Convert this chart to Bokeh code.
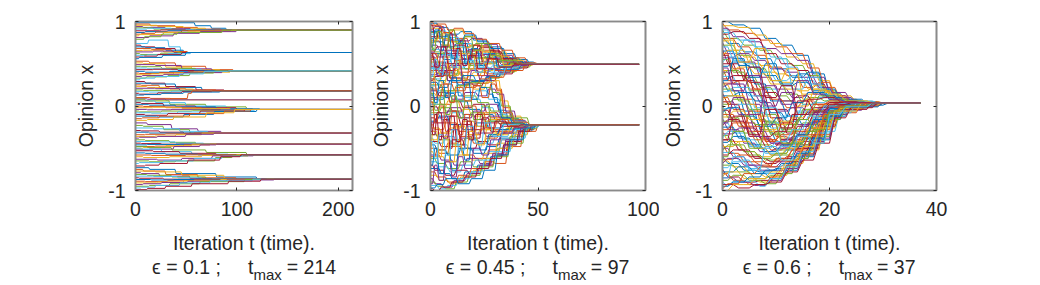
from bokeh.plotting import figure
from bokeh.layouts import row, column
from bokeh.models import Range1d, FixedTicker, LinearAxis
from bokeh.core.properties import value
from bokeh.embed import file_html
from bokeh.resources import INLINE

# ---------------- data ----------------
EPS = ["0.1", "0.45", "0.6"]
TMAX = [214, 97, 37]
XMAX = [214, 100, 40]
XTICKS = [[0, 100, 200], [0, 50, 100], [0, 20, 40]]
YTICKS = [-1, 0, 1]
XLABEL = "Iteration t (time)."
YLABEL = "Opinion x"

# Each path: flat list t0,x0, t1,x1, ... (opinion held, then moves to the next value at t_i)
# ---- panel 1 (eps = 0.1), grouped by final cluster ----
p1_c0897 = [
    [0,.985, 59,.95, 75,.92, 90,.897],
    [0,.97, 15,.95, 40,.93, 62,.91, 85,.897],
    [0,.955, 22,.94, 48,.92, 70,.897],
    [0,.94, 8,.93, 30,.915, 55,.9, 80,.897],
    [0,.925, 18,.91, 44,.9, 66,.897],
    [0,.91, 12,.92, 36,.905, 58,.897],
    [0,.89, 25,.9, 50,.895, 72,.897],
    [0,.87, 10,.88, 32,.89, 60,.897],
    [0,.85, 6,.86, 20,.875, 46,.89, 78,.897],
    [0,.83, 4,.845, 28,.87, 52,.885, 95,.897],
    [0,.81, 14,.83, 38,.86, 64,.88, 100,.897],
    [0,.79, 9,.82, 26,.85, 42,.87, 86,.897],
]
p1_c0633 = [
    [0,.74, 13,.78, 33,.70, 45,.633],
    [0,.72, 6,.70, 20,.68, 40,.633],
    [0,.70, 10,.69, 30,.66, 48,.633],
    [0,.68, 16,.67, 36,.645, 52,.633],
    [0,.655, 8,.66, 28,.64, 44,.633],
    [0,.64, 18,.65, 38,.633],
    [0,.62, 5,.61, 25,.625, 42,.633],
    [0,.60, 12,.605, 32,.62, 55,.633],
    [0,.58, 9,.59, 22,.61, 46,.633],
    [0,.56, 4,.575, 27,.60, 50,.633],
]
p1_c0416 = [
    [0,.53, 14,.51, 40,.47, 70,.43, 97,.416],
    [0,.51, 8,.50, 30,.46, 56,.43, 84,.416],
    [0,.49, 20,.48, 46,.44, 76,.416],
    [0,.47, 6,.465, 26,.445, 60,.42, 90,.416],
    [0,.45, 12,.44, 36,.43, 66,.416],
    [0,.43, 18,.435, 42,.42, 72,.416],
    [0,.41, 10,.40, 34,.41, 58,.416],
    [0,.39, 4,.385, 24,.395, 52,.405, 80,.416],
    [0,.37, 16,.38, 38,.39, 62,.40, 94,.416],
    [0,.35, 7,.36, 28,.375, 48,.395, 86,.416],
    [0,.33, 11,.345, 32,.36, 54,.39, 78,.416],
    [0,.31, 5,.33, 20,.35, 44,.38, 68,.41, 92,.416],
]
p1_c0180 = [
    [0,.29, 10,.27, 30,.23, 60,.19, 88,.18],
    [0,.27, 16,.26, 40,.22, 66,.18],
    [0,.25, 6,.245, 24,.21, 50,.19, 80,.18],
    [0,.23, 12,.22, 34,.20, 58,.18],
    [0,.21, 20,.205, 44,.185, 70,.18],
    [0,.19, 8,.185, 28,.18],
    [0,.17, 14,.165, 36,.175, 62,.18],
    [0,.15, 4,.14, 22,.155, 46,.17, 76,.18],
    [0,.13, 9,.135, 26,.15, 48,.165, 84,.18],
    [0,.10, 15,.09, 35,.088, 52,.15, 56,.18],
]
p1_c0073 = [
    [0,.06, 18,.073],
    [0,.085, 12,.08, 30,.073],
]
p1_cm0041 = [
    [0,.08, 10,.06, 34,.02, 70,-.01, 110,-.041],
    [0,.06, 20,.04, 50,.0, 90,-.03, 123,-.041],
    [0,.04, 6,.03, 28,.0, 60,-.02, 100,-.041],
    [0,.02, 14,.01, 40,-.01, 80,-.035, 116,-.041],
    [0,.0, 8,-.005, 30,-.02, 66,-.041],
    [0,-.02, 18,-.015, 46,-.03, 94,-.041],
    [0,-.04, 12,-.045, 36,-.04, 74,-.041],
    [0,-.06, 4,-.07, 26,-.06, 56,-.05, 104,-.041],
    [0,-.08, 16,-.085, 42,-.07, 84,-.05, 118,-.041],
    [0,-.10, 10,-.11, 32,-.09, 64,-.06, 108,-.041],
    [0,-.12, 22,-.13, 48,-.10, 78,-.065, 120,-.041],
    [0,-.15, 7,-.14, 24,-.12, 54,-.09, 88,-.06, 114,-.041],
    [0,-.17, 12,-.16, 38,-.13, 70,-.08, 98,-.041],
]
p1_cm0321 = [
    [0,-.20, 12,-.22, 36,-.27, 62,-.30, 85,-.321],
    [0,-.23, 8,-.24, 28,-.28, 54,-.321],
    [0,-.26, 18,-.27, 44,-.30, 72,-.321],
    [0,-.29, 6,-.295, 24,-.31, 48,-.321],
    [0,-.31, 14,-.32, 32,-.321],
    [0,-.34, 10,-.335, 30,-.33, 58,-.321],
    [0,-.36, 20,-.355, 40,-.34, 66,-.321],
    [0,-.38, 4,-.37, 22,-.36, 50,-.335, 78,-.321],
]
p1_cm0452 = [
    [0,-.40, 10,-.41, 34,-.43, 60,-.452],
    [0,-.42, 16,-.425, 40,-.44, 68,-.452],
    [0,-.44, 6,-.445, 26,-.452],
    [0,-.46, 12,-.455, 44,-.452],
    [0,-.48, 20,-.475, 48,-.46, 74,-.452],
    [0,-.50, 8,-.49, 30,-.47, 56,-.452],
    [0,-.52, 14,-.51, 38,-.48, 64,-.46, 80,-.452],
]
p1_cm0578 = [
    [0,-.48, 12,-.49, 36,-.52, 70,-.55, 110,-.578],
    [0,-.50, 6,-.51, 26,-.54, 56,-.57, 92,-.578],
    [0,-.53, 18,-.54, 44,-.56, 80,-.578],
    [0,-.555, 10,-.56, 30,-.57, 62,-.578],
    [0,-.58, 16,-.585, 50,-.578],
    [0,-.60, 8,-.61, 34,-.60, 66,-.585, 100,-.578],
    [0,-.63, 22,-.64, 46,-.62, 76,-.59, 117,-.578],
    [0,-.65, 14,-.66, 40,-.65, 79,-.61, 96,-.59, 112,-.578],
    [0,-.68, 4,-.67, 28,-.65, 58,-.62, 86,-.595, 106,-.578],
    [0,-.71, 10,-.70, 24,-.68, 52,-.64, 84,-.60, 104,-.578],
]
p1_cm0866 = [
    [0,-.73, 14,-.75, 40,-.80, 80,-.84, 120,-.866],
    [0,-.75, 8,-.77, 30,-.81, 62,-.85, 100,-.866],
    [0,-.77, 20,-.78, 46,-.82, 88,-.866],
    [0,-.79, 6,-.80, 24,-.83, 54,-.86, 76,-.866],
    [0,-.81, 12,-.82, 36,-.84, 70,-.866],
    [0,-.83, 18,-.835, 42,-.85, 66,-.866],
    [0,-.85, 4,-.855, 28,-.866],
    [0,-.87, 16,-.875, 38,-.87, 60,-.866],
    [0,-.89, 10,-.895, 32,-.885, 58,-.875, 96,-.866],
    [0,-.91, 22,-.90, 48,-.885, 84,-.87, 130,-.866],
    [0,-.93, 8,-.92, 26,-.905, 52,-.89, 90,-.875, 137,-.866],
    [0,-.95, 14,-.94, 34,-.92, 64,-.895, 108,-.87, 128,-.866],
    [0,-.97, 6,-.96, 20,-.94, 44,-.91, 74,-.885, 116,-.866],
    [0,-.99, 12,-.975, 30,-.95, 56,-.92, 92,-.89, 124,-.866],
]

# ---- panel 2 (eps = 0.45): upper cluster 0.494, lower cluster -0.223 ----
p2_upper = [
    [0,.98, 4,.93, 9,.85, 14,.88, 20,.78, 27,.70, 34,.62, 40,.55, 46,.494],
    [0,.95, 3,.97, 8,.90, 12,.80, 18,.72, 24,.66, 31,.58, 38,.52, 44,.494],
    [0,.92, 5,.86, 10,.90, 16,.82, 22,.71, 28,.64, 36,.56, 42,.51, 48,.494],
    [0,.90, 2,.94, 7,.84, 13,.77, 19,.80, 25,.73, 32,.60, 39,.53, 45,.494],
    [0,.87, 4,.80, 9,.76, 15,.70, 21,.74, 29,.62, 35,.55, 43,.494],
    [0,.85, 3,.89, 8,.81, 14,.74, 20,.66, 26,.60, 33,.56, 41,.50, 47,.494],
    [0,.82, 6,.78, 11,.72, 17,.65, 23,.69, 30,.58, 37,.52, 44,.494],
    [0,.80, 2,.76, 7,.70, 12,.74, 18,.62, 24,.57, 31,.53, 39,.494],
    [0,.77, 5,.72, 10,.65, 16,.60, 22,.64, 28,.55, 36,.50, 42,.494],
    [0,.75, 3,.80, 9,.68, 14,.62, 21,.56, 27,.60, 34,.52, 40,.494],
    [0,.72, 4,.66, 8,.60, 13,.55, 19,.58, 25,.52, 33,.49, 41,.494],
    [0,.70, 2,.64, 7,.58, 12,.52, 18,.48, 24,.50, 32,.47, 38,.494],
    [0,.67, 5,.61, 11,.55, 17,.50, 23,.45, 29,.48, 35,.47, 43,.494],
    [0,.65, 3,.70, 8,.62, 15,.56, 20,.50, 26,.44, 33,.46, 40,.494],
    [0,.62, 6,.55, 10,.50, 16,.44, 22,.40, 28,.43, 35,.47, 45,.494],
    [0,.60, 2,.52, 7,.46, 13,.40, 19,.44, 26,.38, 32,.42, 39,.47, 46,.494],
    [0,.57, 4,.50, 9,.42, 14,.36, 20,.40, 27,.34, 34,.41, 41,.48, 48,.494],
    [0,.55, 3,.48, 8,.40, 12,.33, 18,.30, 24,.36, 30,.42, 38,.48, 44,.494],
    [0,.52, 5,.45, 10,.38, 16,.31, 21,.27, 27,.33, 33,.40, 40,.46, 47,.494],
    [0,.50, 2,.44, 6,.36, 11,.30, 17,.26, 23,.31, 29,.37, 36,.44, 43,.494],
    [0,.47, 4,.40, 9,.33, 15,.28, 20,.24, 25,.30, 31,.38, 39,.45, 46,.494],
    [0,.45, 3,.38, 8,.30, 13,.25, 19,.29, 26,.35, 33,.43, 42,.494],
    [0,.42, 5,.36, 10,.28, 16,.22, 22,.27, 28,.34, 35,.42, 44,.494],
    [0,.40, 2,.45, 7,.38, 12,.32, 18,.36, 24,.42, 30,.46, 37,.494],
    [0,.37, 4,.42, 9,.48, 14,.55, 20,.60, 26,.57, 32,.52, 40,.494],
    [0,.35, 3,.30, 8,.36, 13,.44, 19,.52, 25,.58, 31,.54, 38,.50, 45,.494],
    [0,.32, 6,.38, 11,.46, 17,.54, 23,.62, 29,.58, 36,.53, 43,.494],
    [0,.30, 2,.35, 7,.42, 12,.50, 18,.58, 22,.71, 28,.64, 34,.56, 41,.51, 47,.494],
    [0,.88, 5,.82, 10,.78, 16,.84, 22,.76, 28,.68, 35,.57, 42,.52, 49,.494],
    [0,.99, 2,.95, 6,.87, 11,.92, 16,.86, 21,.79, 27,.74, 33,.66, 39,.57, 45,.51, 50,.494],
    [0,.78, 4,.84, 9,.76, 14,.69, 19,.72, 25,.64, 30,.59, 37,.54, 44,.494],
    [0,.63, 3,.58, 7,.66, 13,.60, 18,.67, 24,.61, 31,.56, 39,.51, 46,.494],
    [0,.55, 4,.62, 8,.70, 14,.64, 20,.57, 27,.52, 34,.50, 42,.494],
    [0,.44, 5,.52, 10,.58, 15,.52, 21,.46, 28,.40, 34,.45, 41,.494],
    [0,.96, 2,.80, 4,.92, 6,.70, 9,.86, 11,.62, 14,.78, 17,.58, 20,.72, 24,.52, 28,.66, 33,.56, 39,.50, 45,.494],
    [0,.70, 2,.90, 5,.66, 7,.84, 10,.56, 13,.76, 16,.50, 19,.68, 23,.48, 27,.62, 31,.46, 37,.52, 44,.494],
    [0,.45, 1,.62, 4,.38, 6,.58, 9,.34, 12,.54, 15,.30, 18,.50, 22,.36, 26,.56, 30,.42, 36,.52, 43,.494],
    [0,.20, 2,.40, 5,.28, 8,.50, 11,.36, 14,.62, 18,.44, 21,.66, 25,.50, 29,.60, 34,.48, 40,.494],
    [0,.58, 3,.36, 6,.52, 8,.30, 11,.48, 15,.26, 19,.42, 23,.30, 27,.44, 32,.40, 38,.48, 46,.494],
    [0,.84, 1,.66, 3,.88, 6,.72, 9,.90, 12,.74, 16,.82, 20,.66, 24,.74, 28,.60, 33,.54, 41,.494],
    [0,.35, 2,.55, 4,.40, 7,.64, 10,.46, 13,.70, 17,.54, 21,.40, 25,.52, 30,.38, 35,.46, 42,.494],
    [0,.62, 2,.46, 5,.70, 8,.50, 12,.68, 15,.48, 18,.60, 22,.44, 27,.56, 32,.46, 39,.494],
]
p2_lower = [
    [0,.28, 4,.22, 9,.30, 15,.36, 21,.30, 26,.34, 29,.10, 32,-.05, 36,-.15, 42,-.223],
    [0,.20, 5,.26, 11,.18, 17,.26, 23,.32, 28,.36, 31,.20, 34,-.02, 38,-.16, 44,-.223],
    [0,.15, 3,.10, 8,.18, 14,.24, 20,.20, 26,.28, 30,.30, 33,.06, 37,-.12, 43,-.223],
    [0,.10, 4,.16, 10,.08, 16,.16, 22,.12, 27,.20, 31,.14, 35,-.06, 40,-.18, 45,-.223],
    [0,.25, 6,.18, 12,.24, 18,.28, 24,.22, 29,.16, 33,.00, 38,-.14, 46,-.223],
    [0,.24, 3,.18, 8,.12, 13,.05, 18,.08, 24,-.02, 30,-.10, 36,-.17, 43,-.223],
    [0,.18, 4,.12, 9,.05, 15,-.02, 20,.02, 26,-.08, 32,-.14, 39,-.2, 44,-.223],
    [0,.13, 2,.08, 7,.15, 12,.06, 18,-.04, 24,-.10, 30,-.16, 37,-.223],
    [0,.08, 5,.02, 10,-.06, 16,.0, 22,-.10, 28,-.14, 35,-.19, 42,-.223],
    [0,.04, 3,-.02, 8,.06, 14,-.04, 19,-.12, 25,-.08, 31,-.16, 40,-.223],
    [0,-.01, 4,-.08, 9,-.02, 15,-.10, 21,-.16, 27,-.12, 34,-.2, 41,-.223],
    [0,-.05, 2,.02, 7,-.06, 13,-.14, 19,-.08, 25,-.18, 32,-.21, 39,-.223],
    [0,-.10, 5,-.16, 10,-.08, 16,-.18, 22,-.24, 28,-.18, 35,-.22, 42,-.223],
    [0,-.14, 3,-.20, 8,-.12, 14,-.22, 20,-.28, 26,-.20, 33,-.24, 40,-.223],
    [0,-.18, 4,-.12, 9,-.22, 15,-.28, 21,-.20, 27,-.26, 34,-.21, 43,-.223],
    [0,-.22, 2,-.28, 7,-.20, 13,-.30, 18,-.34, 24,-.26, 30,-.28, 37,-.23, 44,-.223],
    [0,-.26, 5,-.32, 11,-.24, 17,-.34, 23,-.28, 29,-.32, 36,-.25, 45,-.223],
    [0,-.30, 3,-.36, 8,-.28, 14,-.38, 20,-.32, 26,-.36, 32,-.28, 40,-.24, 46,-.223],
    [0,-.34, 4,-.40, 10,-.46, 16,-.38, 22,-.42, 28,-.34, 35,-.27, 44,-.223],
    [0,-.38, 2,-.44, 7,-.36, 12,-.46, 18,-.52, 24,-.44, 30,-.36, 37,-.28, 45,-.223],
    [0,-.42, 5,-.48, 10,-.40, 16,-.50, 22,-.42, 27,-.46, 33,-.32, 41,-.25, 47,-.223],
    [0,-.46, 3,-.52, 8,-.58, 14,-.50, 20,-.56, 26,-.48, 32,-.38, 39,-.27, 46,-.223],
    [0,-.50, 4,-.56, 9,-.48, 15,-.58, 21,-.62, 27,-.52, 33,-.40, 40,-.29, 47,-.223],
    [0,-.54, 2,-.60, 7,-.66, 13,-.58, 19,-.64, 25,-.56, 31,-.44, 38,-.31, 45,-.24, 50,-.223],
    [0,-.58, 5,-.64, 11,-.70, 17,-.62, 23,-.68, 29,-.58, 35,-.42, 42,-.28, 48,-.223],
    [0,-.62, 3,-.68, 8,-.74, 14,-.66, 20,-.72, 26,-.62, 31,-.50, 37,-.36, 44,-.25, 49,-.223],
    [0,-.66, 4,-.72, 9,-.78, 15,-.70, 21,-.64, 27,-.54, 33,-.40, 40,-.28, 47,-.223],
    [0,-.70, 2,-.76, 7,-.82, 12,-.76, 18,-.80, 24,-.70, 30,-.58, 36,-.42, 43,-.28, 49,-.223],
    [0,-.74, 5,-.80, 10,-.86, 16,-.78, 22,-.70, 28,-.60, 34,-.46, 41,-.30, 48,-.223],
    [0,-.78, 3,-.84, 8,-.90, 13,-.82, 19,-.74, 25,-.66, 30,-.68, 36,-.48, 43,-.30, 50,-.223],
    [0,-.82, 4,-.88, 9,-.92, 14,-.84, 20,-.76, 26,-.62, 32,-.50, 39,-.34, 46,-.223],
    [0,-.86, 2,-.92, 6,-.96, 11,-.88, 17,-.80, 23,-.70, 29,-.56, 35,-.40, 42,-.26, 48,-.223],
    [0,-.90, 3,-.95, 7,-.98, 12,-.90, 18,-.82, 24,-.72, 30,-.60, 37,-.44, 44,-.27, 50,-.223],
    [0,-.94, 4,-.98, 8,-.94, 13,-.86, 19,-.78, 25,-.64, 31,-.54, 38,-.38, 45,-.25, 51,-.223],
    [0,-.98, 2,-1.0, 5,-.96, 10,-.90, 16,-.84, 22,-.74, 28,-.62, 34,-.46, 41,-.30, 47,-.223],
    [0,-.97, 3,-.93, 7,-.86, 13,-.92, 19,-.86, 25,-.76, 31,-.58, 37,-.40, 44,-.26, 49,-.223],
    [0,-.60, 3,-.52, 8,-.44, 14,-.36, 20,-.44, 26,-.38, 32,-.30, 39,-.25, 45,-.223],
    [0,-.40, 4,-.32, 9,-.26, 15,-.18, 21,-.24, 27,-.16, 33,-.2, 40,-.223],
    [0,-.20, 3,-.14, 8,-.06, 14,-.14, 20,-.06, 26,.02, 32,-.08, 38,-.17, 45,-.223],
    [0,-.08, 5,-.02, 10,.06, 16,.12, 22,.04, 28,-.06, 34,-.15, 41,-.223],
    [0,.02, 4,.10, 9,.16, 15,.10, 21,.18, 27,.08, 33,-.08, 39,-.18, 45,-.223],
    [0,-.30, 2,-.10, 4,-.40, 6,-.16, 9,-.50, 11,-.22, 14,-.46, 17,-.18, 20,-.38, 24,-.14, 28,-.30, 33,-.20, 40,-.223],
    [0,-.70, 2,-.50, 4,-.80, 7,-.56, 10,-.76, 13,-.50, 16,-.64, 19,-.40, 23,-.52, 27,-.34, 32,-.28, 38,-.24, 45,-.223],
    [0,.05, 2,-.20, 4,.00, 7,-.30, 10,-.06, 13,-.34, 16,-.10, 19,-.30, 22,-.08, 26,-.26, 31,-.16, 37,-.22, 43,-.223],
    [0,-.55, 1,-.30, 4,-.60, 6,-.36, 9,-.66, 12,-.40, 15,-.58, 18,-.30, 22,-.46, 26,-.28, 31,-.34, 37,-.24, 44,-.223],
    [0,-.92, 2,-.70, 4,-.88, 7,-.66, 10,-.84, 13,-.60, 16,-.74, 20,-.50, 24,-.58, 28,-.40, 33,-.32, 39,-.25, 46,-.223],
    [0,.15, 2,-.05, 5,.20, 7,-.10, 10,.12, 13,-.14, 16,.06, 20,-.16, 24,.00, 28,-.18, 33,-.12, 39,-.21, 45,-.223],
    [0,-.42, 2,-.62, 4,-.34, 7,-.58, 10,-.28, 13,-.52, 17,-.24, 21,-.44, 25,-.20, 29,-.36, 34,-.22, 41,-.223],
    [0,-.12, 1,-.34, 3,-.08, 6,-.38, 9,-.12, 12,-.42, 15,-.16, 18,-.40, 21,-.10, 25,-.32, 30,-.18, 36,-.24, 42,-.223],
    [0,.22, 2,.04, 4,.30, 7,.10, 10,.34, 13,.12, 16,.28, 19,.08, 23,.22, 27,.14, 30,.04, 33,-.14, 38,-.2, 44,-.223],
    [0,.32, 3,.12, 6,.26, 9,.04, 12,.22, 16,.06, 20,.24, 24,.10, 28,.26, 31,.18, 34,-.08, 39,-.19, 46,-.223],
]

# ---- panel 3 (eps = 0.6): single cluster 0.036 ----
p3_from_top = [
    [0,1.0, 2,.96, 5,.92, 8,.80, 11,.72, 14,.60, 17,.38, 20,.15, 23,.06, 27,.036],
    [0,.98, 1,.90, 4,.86, 7,.78, 10,.70, 13,.62, 16,.45, 19,.22, 22,.08, 26,.036],
    [0,.95, 3,.93, 6,.84, 9,.74, 12,.58, 15,.50, 18,.30, 21,.12, 25,.05, 30,.036],
    [0,.92, 2,.82, 5,.76, 8,.68, 11,.62, 14,.54, 17,.34, 20,.16, 24,.05, 28,.036],
    [0,.90, 1,.80, 4,.72, 7,.66, 10,.56, 13,.48, 16,.36, 19,.18, 22,.07, 26,.036],
    [0,.87, 3,.78, 6,.70, 9,.58, 12,.46, 15,.30, 18,.20, 21,.10, 25,.04, 31,.036],
    [0,.85, 2,.88, 5,.80, 8,.62, 11,.50, 14,.42, 17,.26, 20,.12, 24,.05, 29,.036],
    [0,.82, 1,.74, 4,.64, 7,.56, 10,.44, 13,.34, 16,.40, 19,.20, 22,.08, 27,.036],
    [0,.80, 3,.70, 6,.60, 9,.46, 12,.36, 15,.22, 18,.28, 21,.10, 24,.05, 30,.036],
    [0,.77, 2,.66, 5,.50, 8,.40, 11,.28, 14,.18, 17,.24, 20,.12, 23,.06, 28,.036],
    [0,.75, 1,.62, 4,.52, 7,.34, 10,.20, 13,.10, 16,.16, 19,.10, 22,.05, 26,.036],
    [0,.72, 3,.60, 6,.44, 9,.30, 12,.14, 15,.02, 18,.10, 21,.06, 25,.036],
    [0,.70, 2,.54, 5,.36, 8,.20, 11,.06, 14,-.08, 17,.04, 20,.08, 23,.05, 29,.036],
    [0,.67, 1,.50, 4,.30, 7,.12, 10,-.04, 13,-.16, 16,-.06, 19,.02, 22,.04, 27,.036],
    [0,.65, 3,.48, 6,.26, 9,.06, 12,-.12, 15,-.24, 18,-.10, 21,.0, 24,.03, 30,.036],
    [0,.62, 2,.44, 5,.20, 8,-.04, 11,-.20, 14,-.30, 17,-.18, 20,-.04, 23,.02, 28,.036],
    [0,.60, 1,.66, 4,.58, 7,.48, 10,.38, 13,.30, 16,.20, 19,.12, 22,.06, 26,.036],
    [0,.57, 3,.62, 6,.54, 9,.44, 12,.40, 15,.34, 18,.22, 21,.10, 25,.04, 32,.036],
    [0,.55, 2,.40, 5,.18, 8,-.10, 11,-.28, 14,-.34, 17,-.22, 20,-.06, 23,.01, 27,.036],
    [0,.52, 1,.58, 4,.50, 7,.40, 10,.30, 13,.36, 16,.26, 19,.14, 22,.06, 29,.036],
    [0,.50, 3,.36, 6,.12, 9,-.14, 12,-.32, 15,-.38, 18,-.20, 21,-.04, 24,.02, 30,.036],
    [0,.47, 2,.52, 5,.46, 8,.36, 11,.24, 14,.28, 17,.18, 20,.10, 23,.05, 27,.036],
    [0,.45, 1,.30, 4,.08, 7,-.18, 10,-.36, 13,-.42, 16,-.30, 19,-.10, 22,.0, 26,.036],
    [0,.42, 3,.46, 6,.38, 9,.26, 12,.20, 15,.14, 18,.16, 21,.08, 24,.04, 31,.036],
    [0,.40, 2,.26, 5,.02, 8,-.22, 11,-.40, 14,-.46, 17,-.36, 19,-.14, 22,-.02, 26,.036],
    [0,.37, 1,.42, 4,.34, 7,.22, 10,.12, 13,.04, 16,.10, 19,.06, 22,.04, 28,.036],
    [0,.35, 3,.22, 6,-.02, 9,-.26, 12,-.44, 15,-.40, 18,-.24, 21,-.06, 24,.01, 29,.036],
    [0,.32, 2,.36, 5,.28, 8,.16, 11,.06, 14,.12, 17,.02, 20,.04, 24,.036],
    [0,.30, 1,.18, 4,-.06, 7,-.28, 10,-.42, 13,-.48, 16,-.38, 19,-.16, 22,-.03, 27,.036],
    [0,.27, 3,.30, 6,.20, 9,.08, 12,-.02, 15,.06, 18,.0, 21,.03, 25,.036],
    [0,.25, 2,.12, 5,-.10, 8,-.30, 11,-.38, 14,-.28, 17,-.12, 20,-.02, 23,.02, 28,.036],
    [0,.22, 1,.26, 4,.16, 7,.04, 10,-.06, 13,-.02, 16,-.08, 19,.0, 22,.03, 27,.036],
    [0,.20, 3,.06, 6,-.16, 9,-.34, 12,-.30, 15,-.20, 18,-.06, 21,.01, 25,.036],
    [0,.17, 2,.22, 5,.12, 8,-.02, 11,-.12, 14,-.06, 17,-.14, 20,-.04, 23,.02, 29,.036],
    [0,.15, 1,.02, 4,-.20, 7,-.38, 10,-.46, 13,-.40, 16,-.26, 19,-.08, 22,.0, 26,.036],
    [0,.12, 3,.16, 6,.06, 9,-.08, 12,-.18, 15,-.10, 18,-.02, 21,.02, 24,.036],
    [0,.10, 2,-.04, 5,-.24, 8,-.40, 11,-.44, 14,-.34, 17,-.18, 20,-.05, 23,.01, 28,.036],
    [0,.07, 1,.12, 4,.02, 7,-.12, 10,-.22, 13,-.14, 16,-.04, 19,.02, 23,.036],
    [0,.05, 3,-.10, 6,-.30, 9,-.44, 12,-.50, 15,-.42, 18,-.22, 21,-.06, 24,.0, 30,.036],
    [0,.02, 2,.08, 5,-.04, 8,-.18, 11,-.26, 14,-.16, 17,-.06, 20,.0, 23,.03, 27,.036],
    [0,.90, 2,.62, 4,.78, 7,.40, 10,.56, 13,.20, 16,.34, 19,.10, 22,.06, 26,.036],
    [0,.60, 2,.30, 5,.46, 8,.10, 11,.24, 14,-.10, 17,-.02, 20,.04, 25,.036],
    [0,.30, 2,.56, 5,.34, 8,.50, 11,.26, 14,.38, 17,.16, 20,.08, 24,.04, 29,.036],
    [0,.05, 2,-.30, 5,-.06, 8,-.42, 11,-.20, 14,-.50, 17,-.26, 20,-.08, 23,.0, 27,.036],
    [0,.78, 3,.52, 6,.68, 9,.30, 12,.44, 15,.08, 18,.18, 21,.06, 25,.036],
    [0,.45, 2,.18, 5,.36, 8,.00, 11,.16, 14,-.22, 17,-.10, 20,-.02, 23,.02, 27,.036],
]
p3_from_bottom = [
    [0,0, 1,-.14, 4,-.32, 7,-.46, 10,-.52, 13,-.44, 16,-.30, 19,-.10, 22,-.02, 27,.036],
    [0,-.03, 3,.02, 6,-.08, 9,-.20, 12,-.12, 15,.02, 18,.10, 21,.06, 24,.036],
    [0,-.05, 2,-.18, 5,-.36, 8,-.48, 11,-.40, 14,-.24, 17,-.08, 20,.0, 23,.02, 28,.036],
    [0,-.08, 1,-.02, 4,-.12, 7,-.24, 10,-.14, 13,.04, 16,.16, 19,.12, 22,.06, 27,.036],
    [0,-.10, 3,-.24, 6,-.40, 9,-.52, 12,-.46, 15,-.30, 18,-.12, 21,-.02, 25,.036],
    [0,-.13, 2,-.06, 5,-.16, 8,-.28, 11,-.18, 14,.0, 17,.20, 20,.14, 23,.06, 28,.036],
    [0,-.15, 1,-.28, 4,-.44, 7,-.54, 10,-.50, 13,-.36, 16,-.20, 19,-.06, 22,.0, 27,.036],
    [0,-.18, 3,-.12, 6,-.22, 9,-.32, 12,-.22, 15,-.04, 18,.12, 21,.08, 24,.04, 30,.036],
    [0,-.20, 2,-.32, 5,-.48, 8,-.56, 11,-.48, 14,-.32, 17,-.14, 20,-.04, 23,.01, 29,.036],
    [0,-.23, 1,-.16, 4,-.26, 7,-.36, 10,-.30, 13,-.10, 16,.08, 19,.10, 22,.05, 26,.036],
    [0,-.25, 3,-.38, 6,-.50, 9,-.58, 12,-.52, 15,-.38, 18,-.16, 21,-.04, 24,.01, 31,.036],
    [0,-.28, 2,-.20, 5,-.30, 8,-.40, 11,-.34, 14,-.16, 17,.02, 20,.06, 23,.04, 28,.036],
    [0,-.30, 1,-.42, 4,-.54, 7,-.60, 10,-.56, 13,-.42, 16,-.26, 19,-.10, 22,-.01, 27,.036],
    [0,-.33, 3,-.26, 6,-.36, 9,-.44, 12,-.38, 15,-.22, 18,-.04, 21,.02, 25,.036],
    [0,-.35, 2,-.46, 5,-.58, 8,-.64, 11,-.58, 14,-.46, 17,-.28, 20,-.08, 23,.0, 28,.036],
    [0,-.38, 1,-.30, 4,-.40, 7,-.50, 10,-.42, 13,-.28, 16,-.12, 19,.0, 22,.03, 27,.036],
    [0,-.40, 3,-.52, 6,-.62, 9,-.66, 12,-.60, 15,-.50, 17,-.40, 19,-.18, 22,-.04, 26,.036],
    [0,-.43, 2,-.36, 5,-.46, 8,-.54, 11,-.46, 14,-.34, 17,-.16, 20,-.03, 23,.02, 29,.036],
    [0,-.45, 1,-.56, 4,-.66, 7,-.70, 10,-.64, 13,-.52, 16,-.36, 19,-.14, 22,-.02, 28,.036],
    [0,-.48, 3,-.42, 6,-.50, 9,-.58, 12,-.50, 15,-.36, 18,-.20, 21,-.05, 24,.01, 30,.036],
    [0,-.50, 2,-.60, 5,-.70, 8,-.72, 11,-.66, 14,-.54, 17,-.44, 19,-.22, 22,-.05, 27,.036],
    [0,-.53, 1,-.46, 4,-.54, 7,-.62, 10,-.56, 13,-.44, 16,-.30, 19,-.12, 22,-.01, 26,.036],
    [0,-.55, 3,-.64, 6,-.72, 9,-.76, 12,-.70, 15,-.56, 17,-.46, 19,-.30, 22,-.06, 26,.036],
    [0,-.58, 2,-.52, 5,-.60, 8,-.68, 11,-.62, 14,-.50, 17,-.34, 20,-.12, 23,-.01, 28,.036],
    [0,-.60, 1,-.68, 4,-.76, 7,-.78, 10,-.74, 13,-.60, 16,-.50, 18,-.40, 20,-.16, 23,-.02, 28,.036],
    [0,-.63, 3,-.58, 6,-.66, 9,-.72, 12,-.66, 15,-.52, 18,-.28, 21,-.08, 24,.0, 30,.036],
    [0,-.65, 2,-.72, 5,-.80, 8,-.84, 11,-.74, 14,-.58, 17,-.47, 19,-.26, 22,-.04, 27,.036],
    [0,-.68, 1,-.62, 4,-.70, 7,-.76, 13,-.76, 14,-.62, 17,-.42, 20,-.14, 23,-.02, 28,.036],
    [0,-.70, 3,-.78, 6,-.86, 9,-.82, 12,-.72, 15,-.58, 18,-.36, 21,-.10, 24,-.01, 29,.036],
    [0,-.73, 2,-.66, 5,-.74, 8,-.80, 11,-.70, 14,-.56, 17,-.40, 20,-.14, 23,-.02, 27,.036],
    [0,-.75, 1,-.84, 4,-.90, 7,-.88, 10,-.80, 13,-.66, 16,-.50, 19,-.24, 22,-.04, 28,.036],
    [0,-.78, 3,-.72, 6,-.80, 9,-.86, 12,-.76, 15,-.60, 18,-.40, 21,-.12, 24,-.01, 30,.036],
    [0,-.80, 2,-.88, 5,-.93, 7,-.93, 9,-.84, 12,-.70, 15,-.56, 18,-.34, 21,-.08, 26,.036],
    [0,-.83, 1,-.78, 4,-.86, 7,-.90, 10,-.82, 13,-.68, 16,-.52, 19,-.22, 22,-.03, 27,.036],
    [0,-.85, 3,-.90, 6,-.94, 9,-.88, 12,-.74, 15,-.58, 18,-.38, 21,-.10, 24,0, 29,.036],
    [0,-.88, 2,-.82, 5,-.88, 8,-.92, 11,-.80, 14,-.62, 17,-.44, 20,-.16, 23,-.02, 28,.036],
    [0,-.90, 1,-.95, 2,-.89, 5,-.89, 7,-.95, 9,-.86, 12,-.72, 15,-.54, 18,-.32, 21,-.08, 25,.036],
    [0,-.93, 3,-.97, 6,-.93, 9,-.90, 12,-.78, 15,-.64, 18,-.44, 21,-.14, 24,-.02, 29,.036],
    [0,-.95, 2,-.90, 5,-.84, 8,-.76, 11,-.68, 14,-.56, 17,-.38, 20,-.12, 23,-.01, 28,.036],
    [0,-.98, 1,-.92, 4,-.80, 7,-.72, 10,-.62, 13,-.52, 16,-.34, 19,-.10, 22,0, 27,.036],
    [0,-1.0, 2,-.93, 5,-.93, 6,-.86, 9,-.78, 12,-.64, 15,-.48, 18,-.26, 21,-.06, 26,.036],
    [0,-.20, 2,.10, 5,-.10, 8,.24, 11,.02, 14,.30, 17,.14, 20,.08, 23,.04, 28,.036],
    [0,-.60, 2,-.30, 5,-.50, 8,-.20, 11,-.44, 14,-.16, 17,-.28, 20,-.06, 23,.0, 28,.036],
    [0,-.85, 2,-.60, 5,-.76, 8,-.48, 11,-.64, 14,-.36, 17,-.44, 20,-.10, 23,-.01, 28,.036],
    [0,-.40, 2,-.12, 5,-.34, 8,-.04, 11,-.26, 14,.06, 17,-.06, 20,.02, 24,.036],
]

PANELS = [
    p1_c0897 + p1_c0633 + p1_c0416 + p1_c0180 + p1_c0073 + p1_cm0041
    + p1_cm0321 + p1_cm0452 + p1_cm0578 + p1_cm0866,
    p2_upper + p2_lower,
    p3_from_top + p3_from_bottom,
]

# ---------------- styling ----------------
COLORS = ["#0072BD", "#D95319", "#EDB120", "#7E2F8E", "#77AC30", "#4DBEEE", "#A2142F"]
FONT = "Liberation Sans"
FSZ = 19.5
FS = f"{FSZ}px"
SSZ = 15
TXT = "#262626"
BOX = "#8a8a8a"
FRAME_W = [217, 218, 217]
FRAME_H = 169
BORDER_L = [135, 60, 60]
BORDER_R = [15, 14, 20]
BORDER_T = 21
BORDER_B = 52                      # generous, so Bokeh never has to grow it
MAIN_H = BORDER_T + FRAME_H + BORDER_B
STRIP_TOP = 226                    # page y where the caption strip begins
OVERLAP = MAIN_H - STRIP_TOP       # strip pulled up over the empty bottom border
CAP_H = 285 - STRIP_TOP
TEXT_SHIFT = 6                     # text glyphs land this many px below their y
NB = "\u00a0"

# approximate advance widths (em) for centring the caption line
ADV = {" ": .278, NB: .278, "=": .584, ";": .278, ".": .278, "t": .278, "m": .833,
       "a": .556, "x": .5, "\u03f5": .45}


def text_w(s, px):
    return sum(ADV.get(ch, .556) for ch in s) * px


def path_xy(flat, tmax):
    ts, xs = flat[0::2], flat[1::2]
    px, py = [ts[0]], [xs[0]]
    for i in range(1, len(ts)):
        hold = ts[i] - 1
        if hold > px[-1]:
            px.append(hold)
            py.append(xs[i - 1])
        px.append(ts[i])
        py.append(xs[i])
    if tmax > px[-1]:
        px.append(tmax)
        py.append(xs[-1])
    return px, py


def style_axis(ax, ticks, labels):
    ax.ticker = FixedTicker(ticks=ticks)
    ax.axis_line_color = BOX
    ax.axis_line_width = 1.6
    ax.major_tick_line_color = TXT
    ax.major_tick_in = 3
    ax.major_tick_out = 0
    ax.minor_tick_line_color = None
    ax.major_label_text_font = FONT
    ax.major_label_text_color = TXT
    ax.major_label_text_font_size = FS
    ax.major_label_overrides = {t: (str(t) if labels else "") for t in ticks}
    ax.axis_label_text_font = FONT
    ax.axis_label_text_color = TXT
    ax.axis_label_text_font_size = FS
    ax.axis_label_text_font_style = "normal"


cols = []
for k in range(3):
    w = BORDER_L[k] + FRAME_W[k] + BORDER_R[k]
    p = figure(width=w, height=MAIN_H, output_backend="svg", toolbar_location=None,
               title=None,
               x_range=Range1d(0, XMAX[k]), y_range=Range1d(-1, 1),
               min_border_left=BORDER_L[k], min_border_right=BORDER_R[k],
               min_border_top=BORDER_T, min_border_bottom=BORDER_B,
               x_axis_location=None, y_axis_location=None)
    p.outline_line_color = BOX
    p.outline_line_width = 1.6
    p.xgrid.visible = False
    p.ygrid.visible = False

    xs, ys, cs = [], [], []
    for i, flat in enumerate(PANELS[k]):
        a, b = path_xy(flat, TMAX[k])
        xs.append(a)
        ys.append(b)
        cs.append(COLORS[i % len(COLORS)])
    p.multi_line(xs=xs, ys=ys, line_color=cs, line_width=1.0, line_alpha=1.0)

    xb = LinearAxis()
    style_axis(xb, XTICKS[k], True)
    xb.major_label_standoff = 11
    p.add_layout(xb, "below")

    yl = LinearAxis(axis_label=YLABEL)
    style_axis(yl, YTICKS, True)
    yl.major_label_standoff = 10
    yl.axis_label_standoff = 8
    p.add_layout(yl, "left")

    xt = LinearAxis()
    style_axis(xt, XTICKS[k], False)
    p.add_layout(xt, "above")
    yr = LinearAxis()
    style_axis(yr, YTICKS, False)
    p.add_layout(yr, "right")

    # strip below the axes: x label + "ϵ = 0.1 ;   t_max = 214"
    c = figure(width=w, height=CAP_H, output_backend="svg", toolbar_location=None,
               title=None, margin=(-OVERLAP, 0, 0, 0),
               x_range=Range1d(0, XMAX[k]), y_range=Range1d(CAP_H, 0),
               min_border_left=BORDER_L[k], min_border_right=BORDER_R[k],
               min_border_top=0, min_border_bottom=0,
               x_axis_location=None, y_axis_location=None)
    c.outline_line_color = None
    c.background_fill_alpha = 0
    c.border_fill_alpha = 0
    c.xgrid.visible = False
    c.ygrid.visible = False
    common = dict(text_font=value(FONT), text_color=TXT, text_baseline="alphabetic")
    y_xlabel = 248 - STRIP_TOP - TEXT_SHIFT
    y_cap = 272 - STRIP_TOP - TEXT_SHIFT
    c.text(x=[XMAX[k] / 2], y=[y_xlabel], text=[XLABEL], text_align="center",
           text_font_size=FS, **common)

    left = "\u03f5 = " + EPS[k] + " ;" + NB * 5 + "t"
    sub = "max"
    right = "= " + str(TMAX[k])
    gap = 5
    wl, ws, wr = text_w(left, FSZ), text_w(sub, SSZ), text_w(right, FSZ)
    total = wl + ws + gap + wr
    ppu = FRAME_W[k] / XMAX[k]
    x_anchor = XMAX[k] / 2 + (-total / 2 + wl) / ppu
    c.text(x=[x_anchor], y=[y_cap], text=[left], text_align="right",
           text_font_size=FS, **common)
    c.text(x=[x_anchor], y=[y_cap + 8], text=[sub], text_align="left",
           text_font_size=f"{SSZ}px", **common)
    c.text(x=[x_anchor + (ws + gap) / ppu], y=[y_cap], text=[right], text_align="left",
           text_font_size=FS, **common)
    cols.append(column(p, c))

layout = row(*cols)
open("out.html", "w").write(file_html(layout, INLINE))
